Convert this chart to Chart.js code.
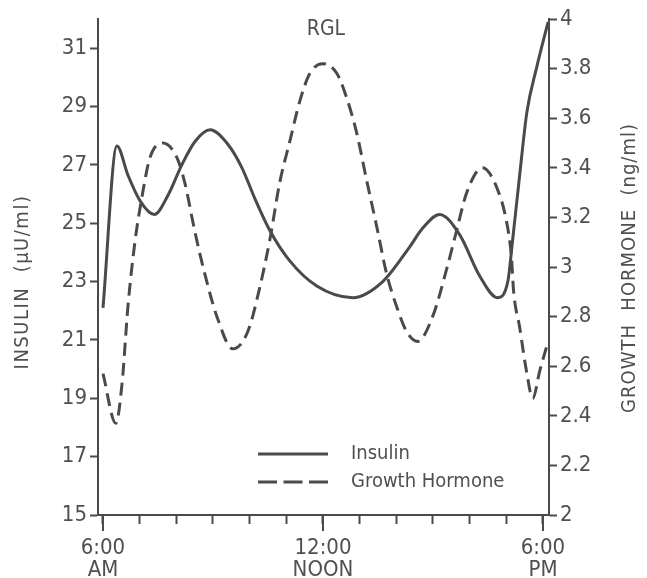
<!DOCTYPE html>
<html>
<head>
<meta charset="utf-8">
<script src="https://cdn.jsdelivr.net/npm/chart.js@4.4.1/dist/chart.umd.min.js"></script>
<style>
  html, body { margin: 0; padding: 0; background: #fff; }
  #wrap { width: 647px; height: 578px; }
</style>
</head>
<body>
<div id="wrap"><canvas id="myChart" width="647" height="578"></canvas></div>
<script>
// time of day in hours (6 = 6:00 AM, 18 = 6:00 PM)
const hoursInsulin = [6.00, 6.38, 6.68, 7.02, 7.40, 7.77, 8.15, 8.51, 8.92, 9.41, 9.79, 10.14, 10.55, 11.10, 11.83, 12.81, 13.63,
  14.37, 14.70, 15.18, 15.73, 16.27, 16.76, 17.04, 17.17, 17.36, 17.56, 17.83, 18.14];
const insulin = [22.1, 27.65, 26.65, 25.75, 25.3, 25.95, 27.0, 27.8, 28.2, 27.7, 26.9, 25.85, 24.75, 23.7, 22.85, 22.45, 23.0,
  24.2, 24.8, 25.3, 24.6, 23.2, 22.45, 23.0, 24.4, 26.6, 28.8, 30.35, 31.9];

const hoursGH = [6.00, 6.35, 6.52, 6.68, 6.87, 7.06, 7.28, 7.63, 8.02, 8.23, 8.51, 8.78, 9.13, 9.54, 9.95,
  10.28, 10.55, 10.82, 11.10, 11.37, 11.64, 11.99, 12.38, 12.65, 12.92, 13.19, 13.47, 13.74, 14.01, 14.28, 14.58,
  14.99, 15.37, 15.65, 15.92, 16.35, 16.74, 17.01, 17.14, 17.20, 17.36, 17.55, 17.72, 17.91, 18.10];
const growthHormone = [2.57, 2.37, 2.53, 2.84, 3.10, 3.28, 3.44, 3.50, 3.44, 3.34, 3.14, 2.97, 2.79, 2.67, 2.74,
  2.92, 3.11, 3.34, 3.51, 3.67, 3.78, 3.82, 3.78, 3.68, 3.54, 3.35, 3.16, 2.97, 2.84, 2.74, 2.70,
  2.80, 2.99, 3.15, 3.30, 3.40, 3.32, 3.18, 3.04, 2.90, 2.76, 2.58, 2.47, 2.58, 2.68];

const insulinTicks = [15, 17, 19, 21, 23, 25, 27, 29, 31];
const ghTicks = [2, 2.2, 2.4, 2.6, 2.8, 3, 3.2, 3.4, 3.6, 3.8, 4];
const hourTicks = [6, 7, 8, 9, 10, 11, 12, 13, 14, 15, 16, 17, 18];
const timeLabels = { 6: ['6:00', 'AM'], 12: ['12:00', 'NOON'], 18: ['6:00', 'PM'] };
const majorHours = [6, 12, 18];

const ink = '#4a4a4a';
const textInk = '#505050';
const fontFam = '"Liberation Sans Narrow", "DejaVu Sans Condensed", "Arial Narrow", sans-serif';
Chart.defaults.font.family = fontFam;

const extras = {
  id: 'extras',
  afterDraw(chart) {
    const ctx = chart.ctx;
    const area = chart.chartArea;
    const xs = chart.scales.x;
    ctx.save();
    // longer ticks at 6:00, 12:00, 6:00
    ctx.strokeStyle = ink;
    ctx.lineWidth = 2;
    majorHours.forEach(h => {
      const px = xs.getPixelForValue(h);
      ctx.beginPath();
      ctx.moveTo(px, area.bottom);
      ctx.lineTo(px, area.bottom + 16);
      ctx.stroke();
    });

    ctx.fillStyle = textInk;
    ctx.textAlign = 'center';
    ctx.textBaseline = 'middle';
    ctx.font = '21px ' + fontFam;
    ctx.fillText('RGL', 326, 30);

    // axis titles, both read bottom to top
    ctx.font = '20px ' + fontFam;
    ctx.letterSpacing = '1.5px';
    ctx.save();
    ctx.translate(23, 282);
    ctx.rotate(-Math.PI / 2);
    ctx.fillText('INSULIN  (\u00b5U/ml)', 0, 0);
    ctx.restore();
    ctx.letterSpacing = '1px';
    ctx.save();
    ctx.translate(630, 268);
    ctx.rotate(-Math.PI / 2);
    ctx.fillText('GROWTH  HORMONE  (ng/ml)', 0, 0);
    ctx.restore();
    ctx.letterSpacing = '0px';

    // legend
    const legY = [454, 482];
    const dashes = [[], [19, 6.5]];
    ctx.font = '20px ' + fontFam;
    ctx.textAlign = 'left';
    chart.data.datasets.forEach((ds, i) => {
      ctx.strokeStyle = ink;
      ctx.lineWidth = 3;
      ctx.setLineDash(dashes[i]);
      ctx.beginPath();
      ctx.moveTo(258, legY[i]);
      ctx.lineTo(328, legY[i]);
      ctx.stroke();
      ctx.setLineDash([]);
      ctx.fillText(ds.label, 351, legY[i]);
    });
    ctx.restore();
  }
};

const axisBase = {
  grid: { drawOnChartArea: false, tickLength: 8, tickColor: ink, tickWidth: 2 },
  border: { color: ink, width: 2 },
  ticks: { color: textInk, font: { size: 22 }, padding: 3 }
};

new Chart(document.getElementById('myChart'), {
  type: 'line',
  data: {
    datasets: [{
      label: 'Insulin',
      data: hoursInsulin.map((h, i) => ({ x: h, y: insulin[i] })),
      yAxisID: 'yL',
      borderColor: ink,
      borderWidth: 3,
      pointRadius: 0,
      fill: false,
      cubicInterpolationMode: 'monotone'
    }, {
      label: 'Growth Hormone',
      data: hoursGH.map((h, i) => ({ x: h, y: growthHormone[i] })),
      yAxisID: 'yR',
      borderColor: ink,
      borderWidth: 3,
      borderDash: [13, 7],
      pointRadius: 0,
      fill: false,
      cubicInterpolationMode: 'monotone'
    }]
  },
  options: {
    responsive: false,
    animation: false,
    events: [],
    layout: { padding: { top: 19, left: 0, right: 0, bottom: 0 } },
    plugins: { legend: { display: false }, tooltip: { enabled: false } },
    scales: {
      x: {
        type: 'linear',
        min: 5.864,
        max: 18.164,
        afterBuildTicks: s => { s.ticks = hourTicks.map(v => ({ value: v })); },
        afterFit: s => { s.height = 63; },
        grid: { drawOnChartArea: false, tickLength: 9, tickColor: ink, tickWidth: 2 },
        border: { color: ink, width: 2 },
        ticks: {
          color: textInk,
          font: { size: 22, lineHeight: 0.98 },
          padding: 14,
          autoSkip: false,
          maxRotation: 0,
          callback: v => timeLabels[v] || ''
        }
      },
      yL: {
        ...axisBase,
        position: 'left',
        min: 15,
        max: 32.0,
        afterBuildTicks: s => { s.ticks = insulinTicks.map(v => ({ value: v })); },
        afterFit: s => { s.width = 98; },
        ticks: { ...axisBase.ticks, callback: v => String(v) }
      },
      yR: {
        ...axisBase,
        position: 'right',
        min: 2,
        max: 4,
        afterBuildTicks: s => { s.ticks = ghTicks.map(v => ({ value: v })); },
        afterFit: s => { s.width = 98; },
        ticks: { ...axisBase.ticks, callback: v => String(+v.toFixed(1)) }
      }
    }
  },
  plugins: [extras]
});
</script>
</body>
</html>
